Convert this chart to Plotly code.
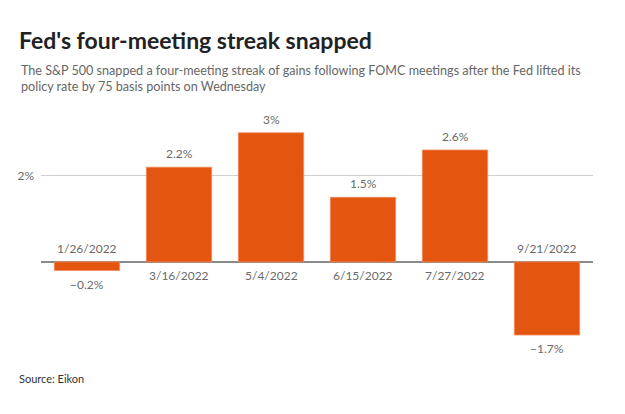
import plotly.graph_objects as go

dates = ["1/26/2022", "3/16/2022", "5/4/2022", "6/15/2022", "7/27/2022", "9/21/2022"]
values = [-0.2, 2.2, 3.0, 1.5, 2.6, -1.7]
value_labels = ["\u22120.2%", "2.2%", "3%", "1.5%", "2.6%", "\u22121.7%"]
y_ticks = [2]
y_tick_labels = ["2%"]

BAR = "#e4560f"
FONT = "Lato, 'Source Sans Pro', 'Open Sans', sans-serif"
GREY = "#6a6a6a"

fig = go.Figure()
fig.add_trace(go.Bar(
    x=dates, y=values,
    marker=dict(color=BAR, line=dict(color="#f08a5a", width=0.8)),
    hoverinfo="skip",
))

annotations = []
for d, v, lab in zip(dates, values, value_labels):
    if v >= 0:
        annotations.append(dict(x=d, y=v, xref="x", yref="y", text=lab, showarrow=False,
                                yanchor="bottom", yshift=4, font=dict(size=12, color=GREY, family=FONT)))
        annotations.append(dict(x=d, y=0, xref="x", yref="y", text=d, showarrow=False,
                                yanchor="top", yshift=-4, font=dict(size=12, color=GREY, family=FONT)))
    else:
        annotations.append(dict(x=d, y=v, xref="x", yref="y", text=lab, showarrow=False,
                                yanchor="top", yshift=-4, font=dict(size=12, color=GREY, family=FONT)))
        annotations.append(dict(x=d, y=0, xref="x", yref="y", text=d, showarrow=False,
                                yanchor="bottom", yshift=4, font=dict(size=12, color=GREY, family=FONT)))

PW, PH = 552, 250
L, T = 41, 110

def px_x(x):
    return (x - L) / PW

def px_y(y):
    return 1 + (T - y) / PH

annotations.append(dict(text="<b>Fed's four-meeting streak snapped</b>", xref="paper", yref="paper",
                        x=px_x(17), y=px_y(40), xanchor="left", yanchor="middle", showarrow=False,
                        font=dict(size=23, color="#222222", family=FONT)))
annotations.append(dict(text="The S&P 500 snapped a four-meeting streak of gains following FOMC meetings after the Fed lifted its<br>policy rate by 75 basis points on Wednesday",
                        xref="paper", yref="paper", x=px_x(19), y=px_y(79),
                        xanchor="left", yanchor="middle", align="left", showarrow=False,
                        font=dict(size=12.6, color="#666666", family=FONT)))
annotations.append(dict(text="Source: Eikon", xref="paper", yref="paper",
                        x=px_x(17), y=px_y(378), xanchor="left", yanchor="middle",
                        showarrow=False, font=dict(size=11, color="#333333", family=FONT)))

fig.update_layout(
    width=625, height=414,
    margin=dict(l=L, r=625 - L - PW, t=T, b=414 - T - PH),
    paper_bgcolor="white", plot_bgcolor="white",
    showlegend=False,
    bargap=0.29,
    font=dict(family=FONT, color=GREY),
    xaxis=dict(showticklabels=False, showgrid=False, zeroline=False, showline=False, ticks=""),
    yaxis=dict(range=[-2.28, 3.53], tickvals=y_ticks, ticktext=y_tick_labels,
               showgrid=True, gridcolor="#d0d0d0", gridwidth=1,
               zeroline=True, zerolinecolor="#8a8a8a", zerolinewidth=1.5,
               tickfont=dict(size=12, color=GREY, family=FONT), ticks="", ticklabelstandoff=6),
    annotations=annotations,
)

fig.write_html("out.html")
